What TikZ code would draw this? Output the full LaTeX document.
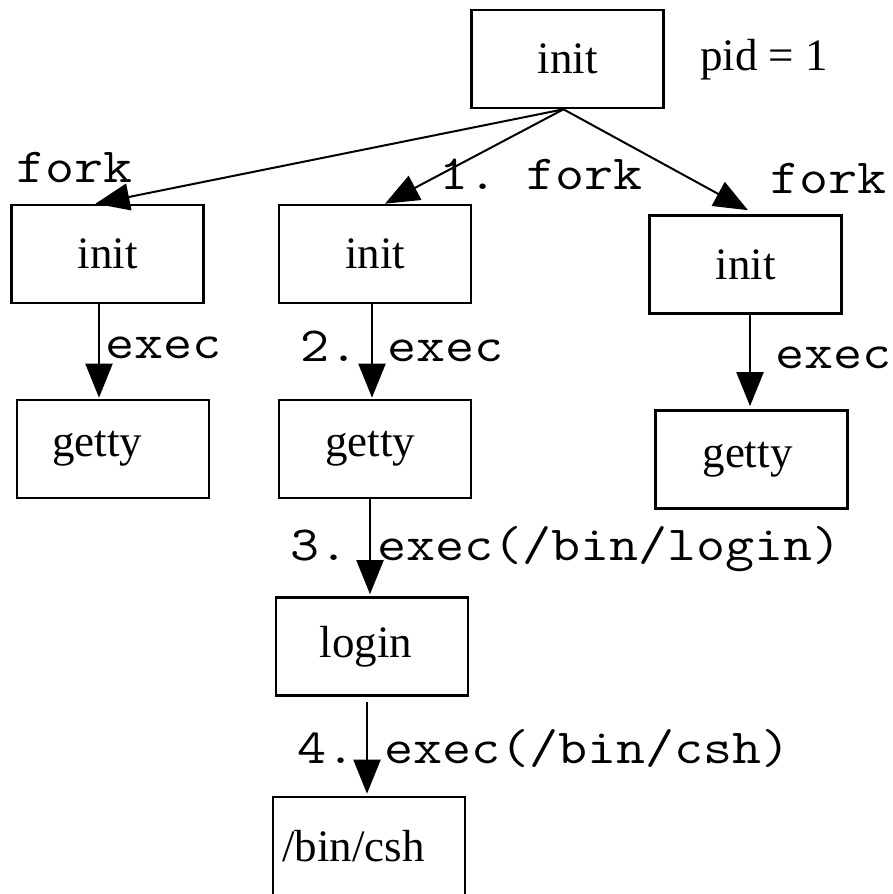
\documentclass[tikz,border=0pt]{standalone}
\usepackage{fontspec}
\setmainfont{Liberation Serif}
\setmonofont[FakeStretch=1.15]{Latin Modern Mono}
\usetikzlibrary{arrows.meta}
\begin{document}
\begin{tikzpicture}[x=1pt,y=-1pt,
  box/.style={draw, line width=2.6pt, minimum width=192pt, minimum height=98pt,
              inner sep=0pt, font=\fontsize{45}{50}\selectfont},
  lbl/.style={anchor=base west, inner sep=0pt, font=\ttfamily\fontsize{49}{52}\selectfont},
  arr/.style={line width=2pt, -{Triangle[length=34pt,width=27pt]}}]
\path[use as bounding box, clip] (0,0) rectangle (892,894);
\fill[white] (0,0) rectangle (892,894);

% process boxes
\node[box] (top)    at (567.5,59)   {init};
\node[box] (linit)  at (107.5,254)  {init};
\node[box] (minit)  at (375,254)    {init};
\node[box] (rinit)  at (745.5,264.5){init};
\node[box] (lgetty) at (113,449)    {getty\hspace*{32pt}};
\node[box] (mgetty) at (375,449)    {getty\hspace*{10pt}};
\node[box] (rgetty) at (751.5,459.5){getty\hspace*{8pt}};
\node[box] (login)  at (372,646.5)  {login\hspace*{12pt}};
\node[box] (csh)    at (369,846)    {/bin/csh\hspace*{31pt}};

\node[anchor=base west, inner sep=0pt, font=\fontsize{45}{50}\selectfont] (pid) at (700,70) {pid = 1};

% fork arrows
\draw[arr] ([xshift=-4pt]top.south) -- ([xshift=-12pt]linit.north);
\draw[arr] ([xshift=-4pt]top.south) -- ([xshift=10pt]minit.north);
\draw[arr] ([xshift=-4pt]top.south) -- ([xshift=2.5pt,yshift=4pt]rinit.north);

% exec arrows
\draw[arr] ([xshift=-8.5pt]linit.south) -- ([xshift=-14pt,yshift=1pt]lgetty.north);
\draw[arr] ([xshift=-3pt]minit.south) -- ([xshift=-3pt,yshift=1pt]mgetty.north);
\draw[arr] ([xshift=4.5pt]rinit.south) -- ([xshift=-1.5pt,yshift=3pt]rgetty.north);
\draw[arr] ([xshift=-5pt]mgetty.south) -- ([xshift=-2pt,yshift=2pt]login.north);
\draw[arr] ([xshift=-5pt,yshift=-5pt]login.south) -- ([xshift=-2pt,yshift=2pt]csh.north);

% edge labels
\node[lbl] (f1) at (16,182)  {fork};
\node[lbl] (f2) at (439,189) {1. fork};
\node[lbl] (f3) at (770,193) {fork};
\node[lbl] (e1) at (105,358) {exec};
\node[lbl] (e2) at (300,361) {2. exec};
\node[lbl] (e3) at (775,368) {exec};
\node[lbl] (e4) at (290,560) {3. exec(/bin/login)};
\node[lbl] (e5) at (297,763) {4. exec(/bin/csh)};
\end{tikzpicture}
\end{document}
